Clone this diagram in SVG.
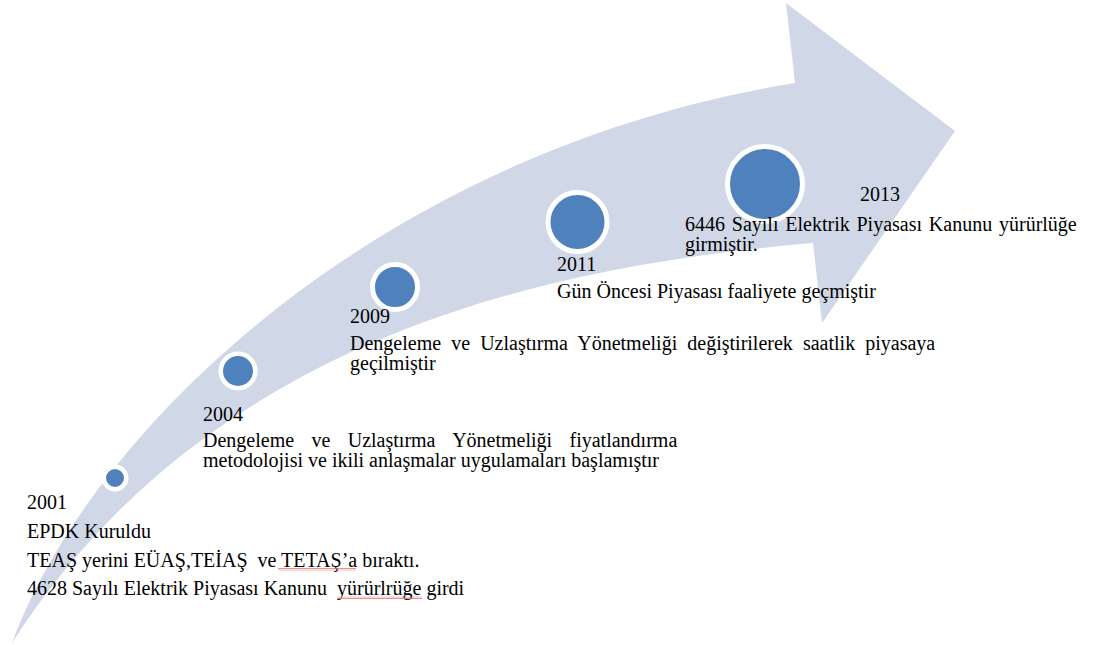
<svg xmlns="http://www.w3.org/2000/svg" width="1096" height="645" viewBox="0 0 1096 645">
  <style>
    .band { fill: #D0D8E8; stroke: none; }
    .dot { fill: #4F81BD; stroke: #FFFFFF; }
    .t { font-family: "Liberation Serif", "Times New Roman", serif; font-size: 20px; fill: #000000; }
    .spell { fill: url(#squiggle); }
  </style>
  <defs>
    <!-- wavy red underline used by the spelling marks -->
    <pattern id="squiggle" x="0" y="0" width="4" height="3" patternUnits="userSpaceOnUse">
      <path d="M0,2.4 L1,0.6 L2,2.4 L3,0.6 L4,2.4" fill="none" stroke="#E57373" stroke-width="0.8"/>
    </pattern>
  </defs>

  <rect width="1096" height="645" fill="#FFFFFF"/>

  <!-- curved upward arrow carrying the timeline -->
  <g id="connectors">
    <path class="band" d="M12,643 C90,430 380,150 795,83 L786,3 L955,131 L822,323 L813,243 C520,268 200,350 12,643 Z"/>
  </g>

  <g id="node-2001">
    <circle class="dot" cx="115" cy="478" r="11.25" stroke-width="4.5"/>
    <text class="t" x="27" y="509">2001</text>
    <text class="t" x="27" y="538">EPDK Kuruldu</text>
    <text class="t" x="27" y="566.5">TEAŞ yerini EÜAŞ,TEİAŞ&#160; ve TETAŞ’a bıraktı.</text>
    <text class="t" x="27" y="595">4628 Sayılı Elektrik Piyasası Kanunu&#160; yürürlrüğe girdi</text>
    <rect class="spell" x="278" y="568" width="78" height="3"/>
    <rect class="spell" x="338" y="596" width="84" height="3"/>
  </g>

  <g id="node-2004">
    <circle class="dot" cx="238" cy="371" r="17.25" stroke-width="4.5"/>
    <text class="t" x="203" y="420.5">2004</text>
    <text class="t" x="203" y="447" word-spacing="12.4">Dengeleme ve Uzlaştırma Yönetmeliği fiyatlandırma</text>
    <text class="t" x="203" y="467">metodolojisi ve ikili anlaşmalar uygulamaları başlamıştır</text>
  </g>

  <g id="node-2009">
    <circle class="dot" cx="395" cy="287" r="22.5" stroke-width="5"/>
    <text class="t" x="350" y="322.5">2009</text>
    <text class="t" x="350" y="349.5" word-spacing="5.1">Dengeleme ve Uzlaştırma Yönetmeliği değiştirilerek saatlik piyasaya</text>
    <text class="t" x="350" y="369.5">geçilmiştir</text>
  </g>

  <g id="node-2011">
    <circle class="dot" cx="577.5" cy="222" r="29.5" stroke-width="5"/>
    <text class="t" x="557" y="271">2011</text>
    <text class="t" x="557" y="298">Gün Öncesi Piyasası faaliyete geçmiştir</text>
  </g>

  <g id="node-2013">
    <circle class="dot" cx="765" cy="184" r="37.5" stroke-width="5"/>
    <text class="t" x="860" y="200.5">2013</text>
    <text class="t" x="685" y="230.5" word-spacing="1.8">6446 Sayılı Elektrik Piyasası Kanunu yürürlüğe</text>
    <text class="t" x="685" y="250.5">girmiştir.</text>
  </g>
</svg>
